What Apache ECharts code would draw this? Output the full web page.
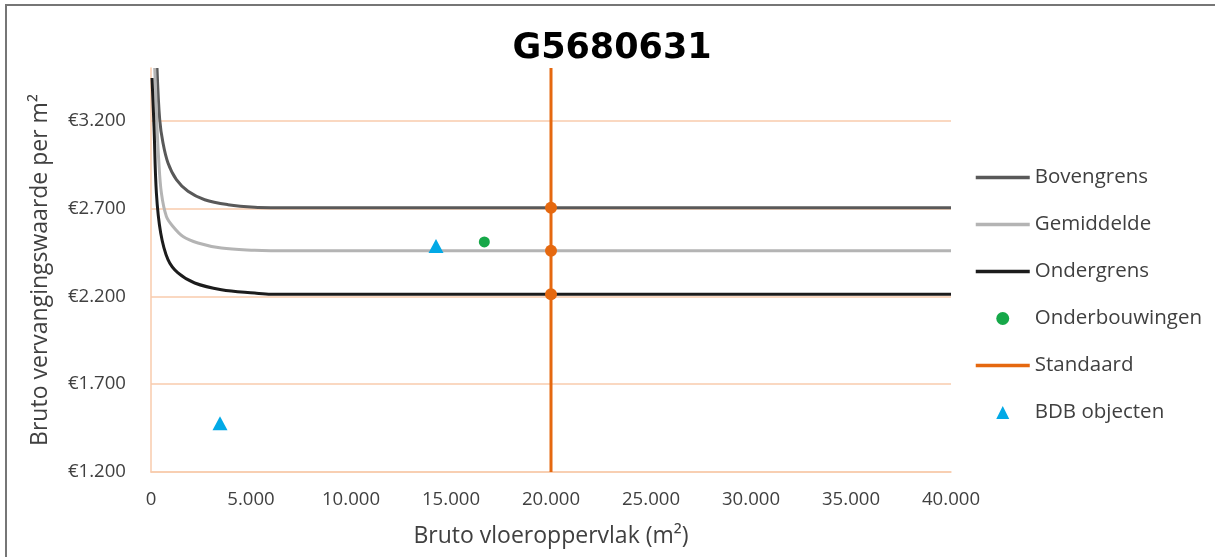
<!DOCTYPE html>
<html>
<head>
<meta charset="utf-8">
<script src="https://cdn.jsdelivr.net/npm/echarts@6/dist/echarts.min.js"></script>
<style>
  html, body { margin: 0; padding: 0; background: #ffffff; }
  #chart { width: 1215px; height: 557px; }
</style>
</head>
<body>
<div id="chart"></div>
<script>
// Value axis starts at €1.200; ticks every €500 from there.
const Y_BASE = 1200;
const Y_TOP = 3500;
const Y_STEP = 500;

const xTickStep = 5000;
const xMax = 40000;

// Reference curves (floor area m² -> € per m²)
const bovenX = [300, 435, 600, 850, 1270, 1850, 2685, 3850, 5185, 6000, 40000];
const bovenY = [3500, 3206, 3073, 2959, 2864, 2798, 2750, 2722, 2707, 2705, 2705];

const gemX = [185, 235, 300, 385, 520, 770, 1100, 1600, 2350, 3520, 5185, 6000, 40000];
const gemY = [3500, 3358, 3168, 2978, 2788, 2655, 2598, 2541, 2504, 2475, 2462, 2460, 2460];

const onderX = [50, 150, 270, 485, 850, 1350, 2185, 3520, 5185, 6000, 40000];
const onderY = [3443, 3168, 2788, 2561, 2409, 2333, 2276, 2238, 2219, 2212, 2212];

// Supporting objects
const onderbouwX = [16667];
const onderbouwY = [2510];

const bdbX = [3450, 14250];
const bdbY = [1478, 2487];

// Standard floor area and its values on the three curves
const standaardX = 20000;
const standaardY = [2705, 2460, 2212];

const titleText = 'G5680631';

const C = {
  boven: '#595959',
  gem: '#B4B4B4',
  onder: '#1C1C1C',
  green: '#16A849',
  orange: '#E5680F',
  blue: '#02A9E6',
  grid: '#F8CBAD',
  text: '#404040'
};

function nl(v) {
  return String(Math.round(v)).replace(/\B(?=(\d{3})+(?!\d))/g, '.');
}
function pts(xs, ys) {
  return xs.map((x, i) => [x, ys[i] - Y_BASE]);
}

const FONT = 'Open Sans';
const TRIANGLE = 'path://M0,10 L5,0 L10,10 Z';
const noSymbol = { color: 'rgba(0,0,0,0)', borderWidth: 0 };
const legendLine = { width: 3.5 };

const chart = echarts.init(document.getElementById('chart'), null, { renderer: 'canvas' });

chart.setOption({
  animation: false,
  backgroundColor: '#ffffff',
  graphic: [{
    type: 'rect',
    silent: true,
    z: -10,
    shape: { x: 6, y: 5, width: 1400, height: 800 },
    style: { fill: 'none', stroke: '#767676', lineWidth: 2 }
  }],
  title: {
    text: titleText,
    left: 607,
    top: 26,
    textAlign: 'center',
    textStyle: { fontFamily: 'DejaVu Sans', fontWeight: 'bold', fontSize: 35, color: '#000000' }
  },
  grid: { left: 151, right: 264, top: 68, bottom: 85 },
  legend: {
    orient: 'vertical',
    left: 974,
    top: 167,
    padding: 0,
    itemWidth: 54,
    itemHeight: 13,
    itemGap: 26,
    selectedMode: false,
    symbolKeepAspect: true,
    textStyle: { fontFamily: FONT, fontSize: 20.5, color: C.text, lineHeight: 21 },
    data: [
      { name: 'Bovengrens', itemStyle: noSymbol, lineStyle: legendLine },
      { name: 'Gemiddelde', itemStyle: noSymbol, lineStyle: legendLine },
      { name: 'Ondergrens', itemStyle: noSymbol, lineStyle: legendLine },
      { name: 'Onderbouwingen' },
      { name: 'Standaard', itemStyle: noSymbol, lineStyle: legendLine },
      { name: 'BDB objecten', icon: TRIANGLE }
    ]
  },
  xAxis: {
    type: 'value',
    min: 0,
    max: xMax,
    interval: xTickStep,
    axisLine: { show: true, lineStyle: { color: C.grid, width: 1.5 } },
    axisTick: { show: false },
    splitLine: { show: false },
    axisLabel: {
      fontFamily: FONT, fontSize: 18.6, color: C.text, margin: 18,
      formatter: v => nl(v)
    },
    name: 'Bruto vloeroppervlak (m²)',
    nameLocation: 'middle',
    nameGap: 53,
    nameTextStyle: { fontFamily: FONT, fontSize: 23, color: C.text }
  },
  yAxis: {
    type: 'value',
    min: 0,
    max: Y_TOP - Y_BASE,
    interval: Y_STEP,
    axisLine: { show: true, onZero: false, lineStyle: { color: C.grid, width: 1.5 } },
    axisTick: { show: false },
    splitLine: { show: true, showMaxLine: false, lineStyle: { color: C.grid, width: 1.5 } },
    axisLabel: {
      fontFamily: FONT, fontSize: 18.6, color: C.text, margin: 25,
      showMaxLabel: false,
      formatter: v => (v % Y_STEP === 0 ? '€' + nl(v + Y_BASE) : '')
    },
    name: 'Bruto vervangingswaarde per m²',
    nameLocation: 'middle',
    nameGap: 99,
    nameRotate: 90,
    nameTextStyle: { fontFamily: FONT, fontSize: 23, color: C.text }
  },
  series: [
    {
      name: 'Bovengrens', type: 'line', data: pts(bovenX, bovenY),
      symbol: 'none', smooth: 0.35, z: 2,
      lineStyle: { color: C.boven, width: 3 }, itemStyle: { color: C.boven }
    },
    {
      name: 'Gemiddelde', type: 'line', data: pts(gemX, gemY),
      symbol: 'none', smooth: 0.35, z: 2,
      lineStyle: { color: C.gem, width: 3 }, itemStyle: { color: C.gem }
    },
    {
      name: 'Ondergrens', type: 'line', data: pts(onderX, onderY),
      symbol: 'none', smooth: 0.35, z: 2,
      lineStyle: { color: C.onder, width: 3 }, itemStyle: { color: C.onder }
    },
    {
      name: 'Onderbouwingen', type: 'scatter', data: pts(onderbouwX, onderbouwY),
      symbol: 'circle', symbolSize: 11, z: 5, itemStyle: { color: C.green, opacity: 1 }
    },
    {
      name: 'Standaard', type: 'line',
      data: [[standaardX, 0], [standaardX, Y_TOP - Y_BASE]],
      symbol: 'none', z: 4,
      lineStyle: { color: C.orange, width: 3 }, itemStyle: { color: C.orange }
    },
    {
      name: 'Standaard', type: 'scatter',
      data: standaardY.map(v => [standaardX, v - Y_BASE]),
      symbol: 'circle', symbolSize: 12, z: 5, itemStyle: { color: C.orange, opacity: 1 }
    },
    {
      name: 'BDB objecten', type: 'scatter', data: pts(bdbX, bdbY),
      symbol: 'triangle', symbolSize: [15, 14], z: 5, itemStyle: { color: C.blue, opacity: 1 }
    }
  ]
});
</script>
</body>
</html>
